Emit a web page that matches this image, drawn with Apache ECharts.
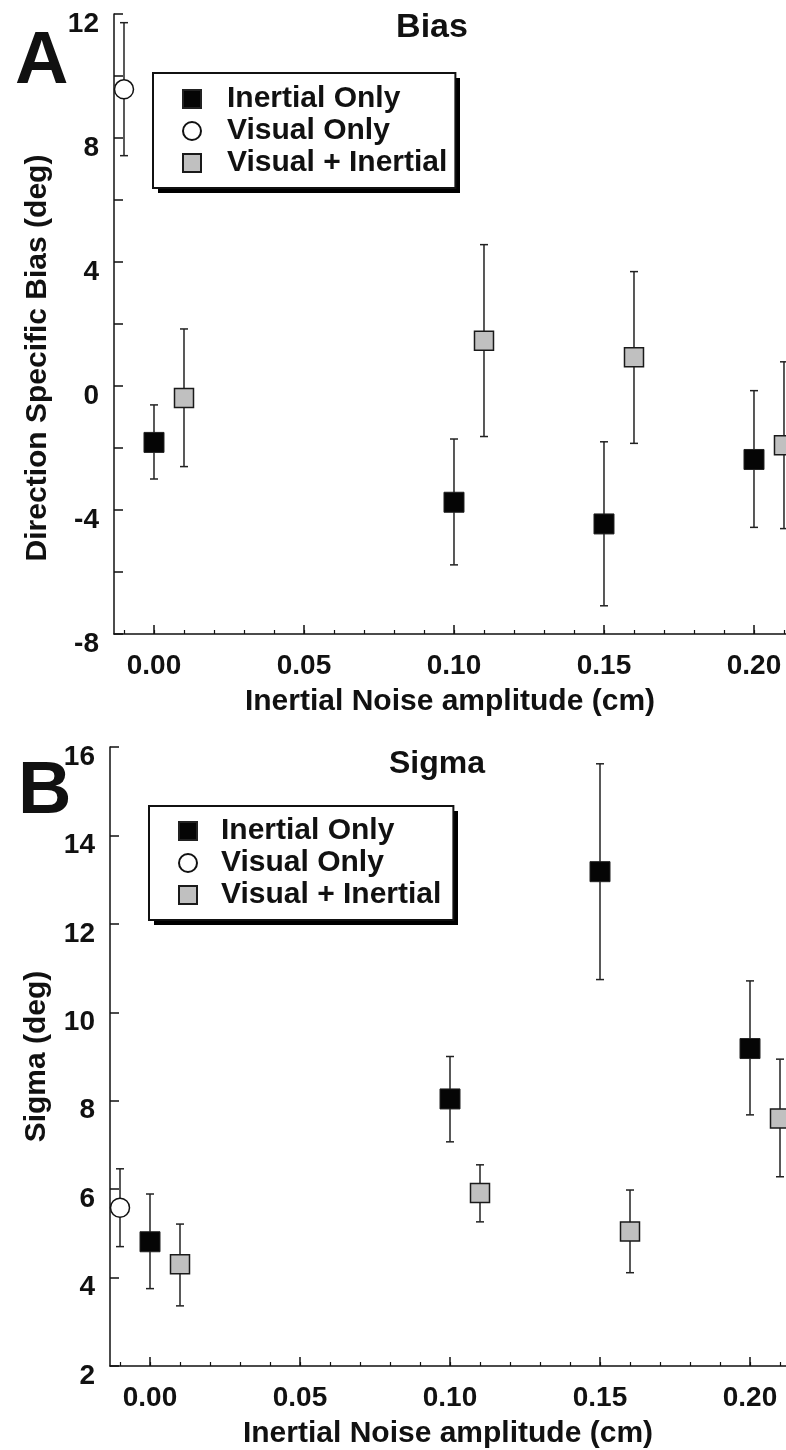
<!DOCTYPE html>
<html>
<head>
<meta charset="utf-8">
<script src="https://cdn.jsdelivr.net/npm/echarts@6/dist/echarts.min.js"></script>
<style>html,body{margin:0;padding:0;background:#fff;}#c{width:786px;height:1450px;}</style>
</head>
<body>
<div id="c"></div>
<script>
// ---------- data ----------
const seriesNames = ['Inertial Only', 'Visual Only', 'Visual + Inertial'];
const xTickLabels = [0.00, 0.05, 0.10, 0.15, 0.20];
const xMinorTicks = [-0.01, 0.00, 0.01, 0.02, 0.03, 0.04, 0.05, 0.06, 0.07, 0.08, 0.09, 0.10, 0.11, 0.12, 0.13, 0.14, 0.15, 0.16, 0.17, 0.18, 0.19, 0.20, 0.21];

const xInertial = [0.00, 0.10, 0.15, 0.20];
const xVisual = [-0.01];
const xVisIn = [0.01, 0.11, 0.16, 0.21];

// Panel A: Bias
const biasInertial   = [-1.82, -3.75, -4.45, -2.37];
const biasInertialLo = [-3.00, -5.77, -7.09, -4.56];
const biasInertialHi = [-0.61, -1.71, -1.80, -0.15];
const biasVisual   = [9.57];
const biasVisualLo = [7.43];
const biasVisualHi = [11.72];
const biasVisIn   = [-0.39, 1.46, 0.93, -1.91];
const biasVisInLo = [-2.60, -1.63, -1.85, -4.60];
const biasVisInHi = [1.84, 4.56, 3.69, 0.78];

// Panel B: Sigma
const sigInertial   = [4.81, 8.04, 13.18, 9.18];
const sigInertialLo = [3.75, 7.07, 10.74, 7.68];
const sigInertialHi = [5.89, 9.00, 15.62, 10.71];
const sigVisual   = [5.58];
const sigVisualLo = [4.70];
const sigVisualHi = [6.46];
const sigVisIn   = [4.30, 5.91, 5.04, 7.60];
const sigVisInLo = [3.36, 5.26, 4.11, 6.28];
const sigVisInHi = [5.21, 6.55, 5.98, 8.94];

// ---------- helpers ----------
const FONT = "'Liberation Sans', Arial, Helvetica, sans-serif";
const pts = (xs, ys) => xs.map((x, i) => [x, ys[i]]);
const errs = (xs, lo, hi) => xs.map((x, i) => [x, lo[i], hi[i]]);

function errRender(params, api) {
  const x = api.value(0), lo = api.value(1), hi = api.value(2);
  const a = api.coord([x, lo]);
  const b = api.coord([x, hi]);
  const w = 4;
  const st = { stroke: '#222', lineWidth: 1.5 };
  return {
    type: 'group',
    children: [
      { type: 'line', shape: { x1: a[0], y1: a[1], x2: b[0], y2: b[1] }, style: st },
      { type: 'line', shape: { x1: a[0] - w, y1: a[1], x2: a[0] + w, y2: a[1] }, style: st },
      { type: 'line', shape: { x1: b[0] - w, y1: b[1], x2: b[0] + w, y2: b[1] }, style: st }
    ]
  };
}

const styles = {
  'Inertial Only':     { symbol: 'rect',   size: 20, item: { color: '#050505', borderColor: '#222', borderWidth: 1, opacity: 1 } },
  'Visual Only':       { symbol: 'circle', size: 19, item: { color: '#ffffff', borderColor: '#111', borderWidth: 1.5, opacity: 1 } },
  'Visual + Inertial': { symbol: 'rect',   size: 19, item: { color: '#c0c0c0', borderColor: '#1a1a1a', borderWidth: 1.5, opacity: 1 } }
};

function panelSeries(xi, yi, data) {
  const out = [];
  data.forEach(d => {
    out.push({
      name: 'err-' + d.name + '-' + yi, type: 'custom', xAxisIndex: xi, yAxisIndex: yi,
      renderItem: errRender, data: errs(d.x, d.lo, d.hi), encode: { x: 0, y: [1, 2] },
      z: 2, silent: true, clip: false
    });
  });
  data.forEach(d => {
    const s = styles[d.name];
    out.push({
      name: d.name, type: 'scatter', xAxisIndex: xi, yAxisIndex: yi,
      symbol: s.symbol, symbolSize: s.size, itemStyle: s.item,
      data: pts(d.x, d.y), z: 3
    });
  });
  return out;
}

function xAxes(gridIndex, max) {
  return [
    {
      type: 'value', gridIndex, min: -0.04 / 3, max, position: 'bottom',
      axisLine: { show: true, onZero: false, lineStyle: { color: '#111', width: 1.5 } },
      axisTick: { show: true, inside: true, length: 9, customValues: xTickLabels, lineStyle: { color: '#111', width: 1.5 } },
      axisLabel: { customValues: xTickLabels, margin: 18, fontFamily: FONT, fontWeight: 'bold', fontSize: 28, color: '#111',
                   formatter: v => v.toFixed(2) },
      splitLine: { show: false },
      name: 'Inertial Noise amplitude (cm)', nameLocation: 'middle', nameGap: 53,
      nameTextStyle: { fontFamily: FONT, fontWeight: 'bold', fontSize: 30, color: '#111' }
    },
    {
      type: 'value', gridIndex, min: -0.04 / 3, max, position: 'bottom',
      axisLine: { show: false, onZero: false },
      axisTick: { show: true, inside: true, length: 4, customValues: xMinorTicks, lineStyle: { color: '#111', width: 1.2 } },
      axisLabel: { show: false },
      splitLine: { show: false }
    }
  ];
}

function yAxis(gridIndex, min, max, every, name, nameGap, namePad) {
  return {
    type: 'value', gridIndex, min, max, interval: 2,
    axisLine: { show: true, onZero: false, lineStyle: { color: '#111', width: 1.5 } },
    axisTick: { show: true, inside: true, length: 9, lineStyle: { color: '#111', width: 1.5 } },
    axisLabel: { margin: 15, fontFamily: FONT, fontWeight: 'bold', fontSize: 28, color: '#111',
                 verticalAlign: 'top', lineHeight: 20,
                 formatter: v => (Math.round(v) % every === 0 ? String(v) : '') },
    splitLine: { show: false },
    name, nameLocation: 'middle', nameGap,
    nameTextStyle: { fontFamily: FONT, fontWeight: 'bold', fontSize: 30, color: '#111', padding: namePad }
  };
}

function legend(left, top, padding, textPad) {
  return {
    orient: 'vertical', left, top, padding,
    data: seriesNames,
    itemWidth: 18, itemHeight: 18, itemGap: 2,
    backgroundColor: '#fff', borderColor: '#111', borderWidth: 2, borderRadius: 0,
    selectedMode: false, z: 10,
    textStyle: { fontFamily: FONT, fontWeight: 'bold', fontSize: 30, color: '#111', lineHeight: 30, padding: [0, 0, 0, textPad] }
  };
}

const chart = echarts.init(document.getElementById('c'), null, { renderer: 'canvas' });
chart.setOption({
  backgroundColor: '#fff',
  animation: false,
  title: [
    { text: 'Bias', left: 432, top: 11, textAlign: 'center', padding: 0,
      textStyle: { fontFamily: FONT, fontWeight: 'bold', fontSize: 34, color: '#111' } },
    { text: 'Sigma', left: 437, top: 748, textAlign: 'center', padding: 0,
      textStyle: { fontFamily: FONT, fontWeight: 'bold', fontSize: 32, color: '#111' } }
  ],
  legend: [
    legend(153, 73, [11, 8, 10, 29], 21),
    legend(149, 806, [10, 12, 10, 29], 19)
  ],
  grid: [
    { left: 114, top: 14, right: 0, height: 620, containLabel: false },
    { left: 110, top: 747, right: 0, height: 619.3, containLabel: false }
  ],
  xAxis: [...xAxes(0, 0.21067), ...xAxes(1, 0.212)],
  yAxis: [
    yAxis(0, -8, 12, 4, 'Direction Specific Bias (deg)', 61, [0, 68, 0, 0]),
    yAxis(1, 2, 16, 2, 'Sigma (deg)', 58, [0, 0, 0, 0])
  ],
  graphic: [
    { type: 'text', left: 15, top: 26, style: { text: 'A', font: 'bold 74px ' + FONT, fill: '#111' } },
    { type: 'text', left: 18, top: 756, style: { text: 'B', font: 'bold 74px ' + FONT, fill: '#111' } },
    // legend drop shadows
    { type: 'rect', z: 9, shape: { x: 158, y: 78, width: 302, height: 115 }, style: { fill: '#000' } },
    { type: 'rect', z: 9, shape: { x: 154, y: 811, width: 304, height: 114 }, style: { fill: '#000' } }
  ],
  series: [
    ...panelSeries(0, 0, [
      { name: 'Inertial Only', x: xInertial, y: biasInertial, lo: biasInertialLo, hi: biasInertialHi },
      { name: 'Visual Only', x: xVisual, y: biasVisual, lo: biasVisualLo, hi: biasVisualHi },
      { name: 'Visual + Inertial', x: xVisIn, y: biasVisIn, lo: biasVisInLo, hi: biasVisInHi }
    ]),
    ...panelSeries(2, 1, [
      { name: 'Inertial Only', x: xInertial, y: sigInertial, lo: sigInertialLo, hi: sigInertialHi },
      { name: 'Visual Only', x: xVisual, y: sigVisual, lo: sigVisualLo, hi: sigVisualHi },
      { name: 'Visual + Inertial', x: xVisIn, y: sigVisIn, lo: sigVisInLo, hi: sigVisInHi }
    ])
  ]
});
</script>
</body>
</html>
